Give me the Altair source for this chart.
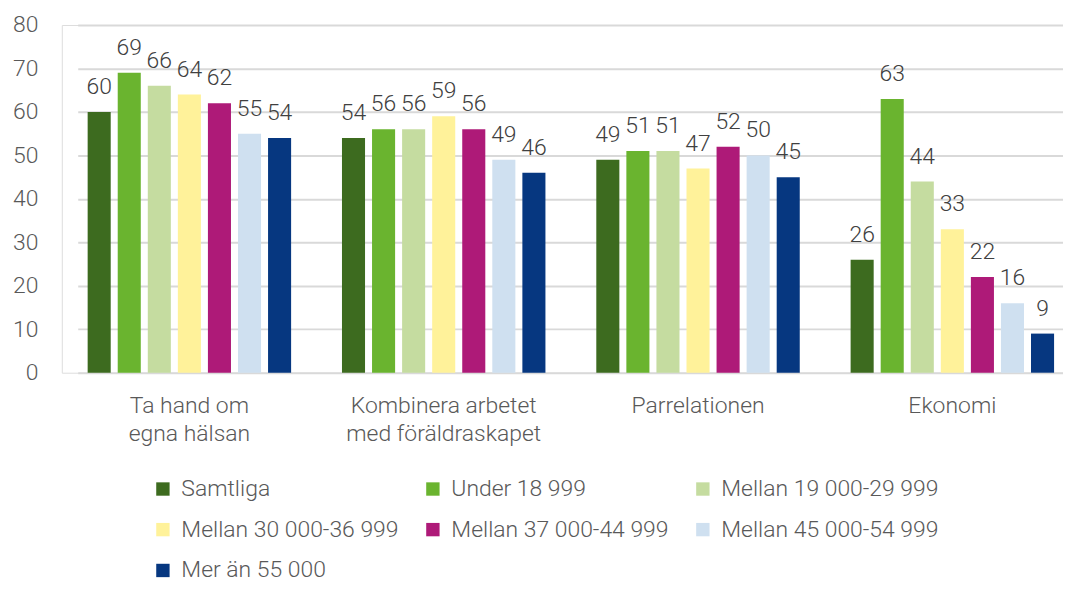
import altair as alt
import pandas as pd

categories = ["Ta hand om\negna hälsan", "Kombinera arbetet\nmed föräldraskapet", "Parrelationen", "Ekonomi"]
series = ["Samtliga", "Under 18 999", "Mellan 19 000-29 999", "Mellan 30 000-36 999",
          "Mellan 37 000-44 999", "Mellan 45 000-54 999", "Mer än 55 000"]
colors = ["#3D6B1F", "#6AB42F", "#C5DCA0", "#FFF29A", "#AE1A78", "#CFE0F0", "#063780"]

samtliga = [60, 54, 49, 26]
under_18999 = [69, 56, 51, 63]
mellan_19_29 = [66, 56, 51, 44]
mellan_30_36 = [64, 59, 47, 33]
mellan_37_44 = [62, 56, 52, 22]
mellan_45_54 = [55, 49, 50, 16]
mer_55 = [54, 46, 45, 9]
y_ticks = [0, 10, 20, 30, 40, 50, 60, 70, 80]

values = [samtliga, under_18999, mellan_19_29, mellan_30_36, mellan_37_44, mellan_45_54, mer_55]
rows = []
for s, vals in zip(series, values):
    for c, v in zip(categories, vals):
        rows.append({"cat": c, "series": s, "value": v})
df = pd.DataFrame(rows)

FONT = "Roboto Light, Roboto"
FS = 23

x = alt.X("cat:N", sort=categories, title=None,
          scale=alt.Scale(range=[16, 1006], paddingInner=0.2, paddingOuter=0.039),
          axis=alt.Axis(labelExpr="split(datum.label, '\\n')", labelAngle=0, ticks=False,
                        labelFontSize=FS, labelColor="#595959", labelFont=FONT, labelFontWeight=300,
                        labelPadding=22, labelLineHeight=28, labelBaseline="top", labelLimit=400,
                        domain=False, grid=False))
xo = alt.XOffset("series:N", sort=series, scale=alt.Scale(paddingInner=0.233, paddingOuter=0))
y = alt.Y("value:Q", title=None,
          scale=alt.Scale(domain=[0, 80]),
          axis=alt.Axis(values=y_ticks, ticks=False, domain=False, labelFontSize=FS,
                        labelColor="#595959", labelFont=FONT, labelFontWeight=300, labelPadding=24,
                        gridColor="#D9D9D9", gridWidth=2))
color = alt.Color("series:N", scale=alt.Scale(domain=series, range=colors),
                  legend=alt.Legend(title=None, orient="none", direction="horizontal",
                                    legendX=90, legendY=454, columns=3,
                                    symbolType="square", symbolSize=180, symbolStrokeWidth=0,
                                    labelFontSize=FS, labelFont=FONT, labelFontWeight=300,
                                    labelColor="#595959", labelOffset=7, columnPadding=22,
                                    rowPadding=17, labelLimit=400))

base = alt.Chart(df)
bars = base.mark_bar().encode(x=x, xOffset=xo, y=y, color=color)
labels = base.mark_text(baseline="alphabetic", dy=-18, fontSize=FS, font=FONT, fontWeight=300,
                        color="#404040").encode(x=x, xOffset=xo, y=y, text=alt.Text("value:Q"))

chart = (bars + labels).properties(
    width=1005, height=349,
    padding={"left": 4, "top": 5, "right": 0, "bottom": 0},
).configure_view(stroke=None).configure(background="white")

chart.save("out.html", embed_options={"renderer": "svg", "actions": False})
